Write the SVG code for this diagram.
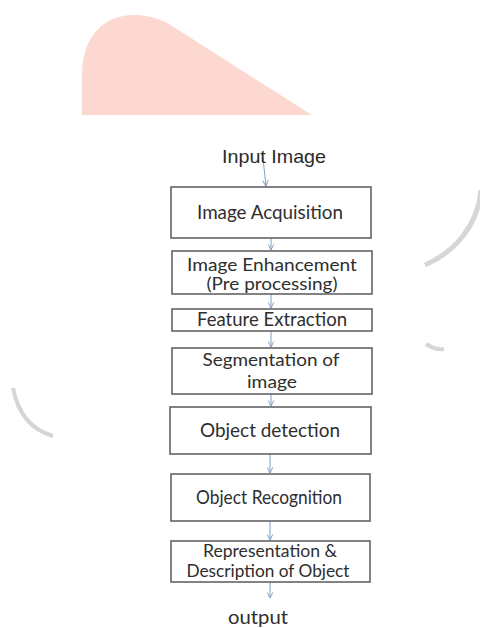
<svg xmlns="http://www.w3.org/2000/svg" width="480" height="628" viewBox="0 0 480 628">
  <style>
    .box { fill: #ffffff; stroke: #5a5a5a; stroke-width: 1.5; }
    .lbl { font-family: Lato, "Open Sans", "Liberation Sans", sans-serif; font-size: 19px; fill: #2e2e2e; text-anchor: middle; }
    .two { font-size: 18px; }
    .tight { font-size: 16.5px; }
    .title { font-family: "Liberation Sans", Arial, sans-serif; font-size: 19px; fill: #2a2a2a; text-anchor: middle; }
    .link { fill: none; stroke: #7f9fc8; stroke-width: 1; marker-end: url(#head); }
    .arc { fill: none; stroke: #d6d6d6; stroke-linecap: butt; }
  </style>
  <defs>
    <marker id="head" viewBox="0 0 10 10" refX="9" refY="5" markerWidth="7" markerHeight="7" markerUnits="userSpaceOnUse" orient="auto">
      <path d="M1,1 L9,5 L1,9" fill="none" stroke="#7f9fc8" stroke-width="1.4"/>
    </marker>
  </defs>

  <rect width="480" height="628" fill="#ffffff"/>

  <!-- background decoration -->
  <g id="backdrop">
    <path d="M82,115 L82,75 C82,36 104,15 134,15 C150,15 160,19 172,26 L312,115 Z" fill="#fdd8d1"/>
    <path class="arc" d="M481,190 C478,225 455,252 425,265" stroke-width="5"/>
    <path class="arc" d="M426,344 C432,348 438,350 444,349" stroke-width="4"/>
    <path class="arc" d="M13,388 C18,414 32,430 53,436" stroke-width="4"/>
  </g>

  <!-- connectors -->
  <g id="connectors">
    <line class="link" x1="263" y1="158" x2="266" y2="186"/>
    <line class="link" x1="271" y1="238" x2="271" y2="250"/>
    <line class="link" x1="271" y1="294" x2="271" y2="308"/>
    <line class="link" x1="271" y1="331" x2="271" y2="347"/>
    <line class="link" x1="271" y1="394" x2="271" y2="406"/>
    <line class="link" x1="270" y1="454" x2="270" y2="473"/>
    <line class="link" x1="270" y1="521" x2="270" y2="540"/>
    <line class="link" x1="270" y1="582" x2="270" y2="598"/>
  </g>

  <g id="input">
    <text class="title" x="274" y="163" textLength="104" lengthAdjust="spacingAndGlyphs">Input Image</text>
  </g>

  <g id="acquisition">
    <rect class="box" x="171" y="187" width="200" height="51"/>
    <text class="lbl" x="270" y="219" textLength="146" lengthAdjust="spacingAndGlyphs">Image Acquisition</text>
  </g>

  <g id="enhancement">
    <rect class="box" x="172" y="251" width="200" height="43"/>
    <text class="lbl tight" x="272" y="271" textLength="170" lengthAdjust="spacingAndGlyphs">Image Enhancement</text>
    <text class="lbl tight" x="272" y="290" textLength="131" lengthAdjust="spacingAndGlyphs">(Pre processing)</text>
  </g>

  <g id="features">
    <rect class="box" x="172" y="309" width="200" height="22"/>
    <text class="lbl" x="272" y="326" textLength="150" lengthAdjust="spacingAndGlyphs">Feature Extraction</text>
  </g>

  <g id="segmentation">
    <rect class="box" x="172" y="348" width="200" height="46"/>
    <text class="lbl two" x="271" y="366" textLength="137" lengthAdjust="spacingAndGlyphs">Segmentation of</text>
    <text class="lbl two" x="272" y="388" textLength="50" lengthAdjust="spacingAndGlyphs">image</text>
  </g>

  <g id="detection">
    <rect class="box" x="170" y="407" width="201" height="47"/>
    <text class="lbl" x="270" y="437" textLength="140" lengthAdjust="spacingAndGlyphs">Object detection</text>
  </g>

  <g id="recognition">
    <rect class="box" x="171" y="474" width="199" height="47"/>
    <text class="lbl" x="269" y="504" textLength="146" lengthAdjust="spacingAndGlyphs">Object Recognition</text>
  </g>

  <g id="representation">
    <rect class="box" x="171" y="541" width="199" height="41"/>
    <text class="lbl two" x="270" y="557" textLength="134" lengthAdjust="spacingAndGlyphs">Representation &amp;</text>
    <text class="lbl two" x="268" y="577" textLength="163" lengthAdjust="spacingAndGlyphs">Description of Object</text>
  </g>

  <g id="output">
    <text class="lbl" x="258" y="624" textLength="60" lengthAdjust="spacingAndGlyphs">output</text>
  </g>
</svg>
